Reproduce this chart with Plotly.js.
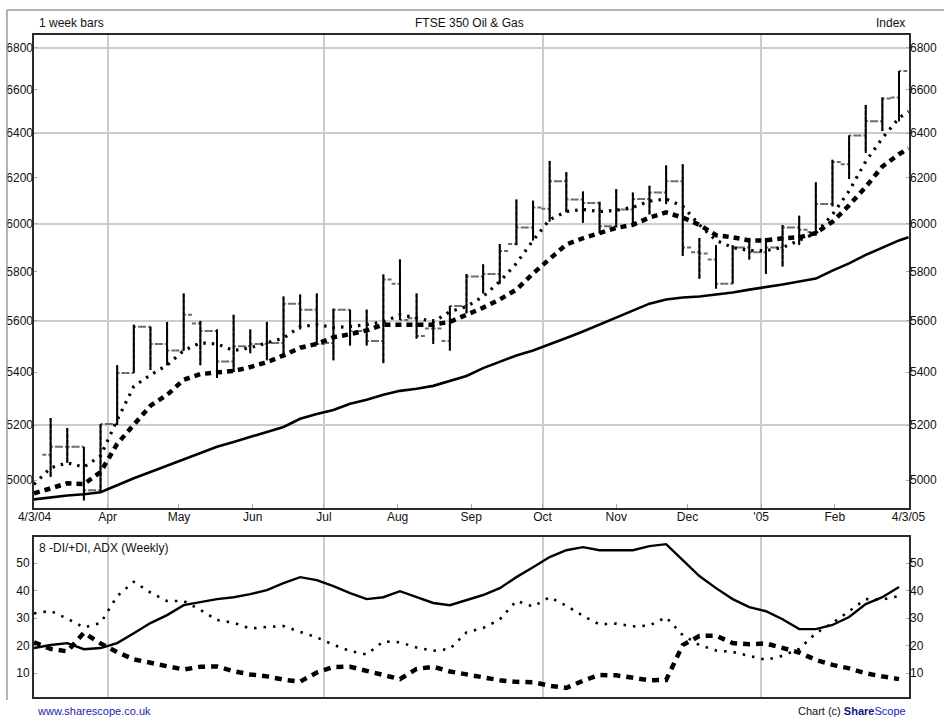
<!DOCTYPE html>
<html>
<head>
<meta charset="utf-8">
<script src="https://cdn.plot.ly/plotly-3.0.1.min.js"></script>
<style>
html,body{margin:0;padding:0;background:#fff;}
#chart{width:944px;height:728px;}
</style>
</head>
<body>
<div id="chart"></div>
<script>
// ---- data ----
const weeks = ['2004-03-01','2004-03-08','2004-03-15','2004-03-22','2004-03-29','2004-04-05','2004-04-12','2004-04-19','2004-04-26',
  '2004-05-03','2004-05-10','2004-05-17','2004-05-24','2004-05-31','2004-06-07','2004-06-14','2004-06-21','2004-06-28',
  '2004-07-05','2004-07-12','2004-07-19','2004-07-26','2004-08-02','2004-08-09','2004-08-16','2004-08-23','2004-08-30',
  '2004-09-06','2004-09-13','2004-09-20','2004-09-27','2004-10-04','2004-10-11','2004-10-18','2004-10-25','2004-11-01',
  '2004-11-08','2004-11-15','2004-11-22','2004-11-29','2004-12-06','2004-12-13','2004-12-20','2004-12-27','2005-01-03',
  '2005-01-10','2005-01-17','2005-01-24','2005-01-31','2005-02-07','2005-02-14','2005-02-21','2005-02-28'];
// the moving averages run on to the chart's end date
const maDates = weeks.concat(['2005-03-04']);

// weekly bars (the first week in the list has no bar drawn)
const opens  = [5091,5120,5120,4964,5204,5396,5577,5509,5483,5590,5560,5440,5500,5509,5513,5669,5645,5513,5645,5560,5520,5750,5610,5570,5520,5660,5780,5790,5915,5985,6065,6185,6105,6090,5990,6062,6107,6135,6185,5880,5850,5750,5900,5880,5900,5985,5965,6085,6260,6390,6455,6565];
const highs  = [5226,5189,5120,5204,5426,5585,5577,5596,5710,5600,5566,5624,5566,5596,5698,5706,5710,5649,5645,5645,5788,5850,5710,5607,5660,5790,5830,5915,6105,6100,6275,6225,6140,6095,6150,6135,6165,6255,6260,5940,5910,5910,5940,5940,5995,6035,6180,6280,6390,6530,6565,6690];
const lows   = [5011,5062,4928,4957,5200,5396,5408,5426,5483,5426,5377,5400,5472,5445,5457,5566,5505,5445,5502,5502,5434,5603,5530,5509,5483,5630,5710,5750,5910,5930,6010,6050,6005,5960,5985,5995,6040,6085,5865,5770,5730,5750,5850,5790,5820,5910,5950,6075,6195,6310,6410,6455];
const closes = [5120,5120,4964,5204,5396,5577,5509,5483,5624,5560,5440,5500,5509,5513,5669,5645,5509,5645,5560,5520,5767,5603,5540,5570,5660,5780,5790,5885,5985,6070,6185,6105,6090,5990,6062,6107,6135,6185,5900,5875,5750,5900,5880,5900,5985,5975,6085,6270,6390,6455,6560,6690];

// moving averages (one value per entry of maDates)
const maShort = [4985,5044,5062,5047,5087,5219,5345,5389,5426,5483,5513,5509,5483,5494,5513,5532,5577,5585,5574,5577,5585,5596,5624,5612,5596,5637,5657,5698,5759,5834,5930,6018,6053,6062,6053,6058,6071,6098,6107,6076,5996,5930,5900,5887,5887,5900,5930,5961,6040,6142,6273,6377,6470,6500];
const maMid   = [4953,4971,4989,4986,5029,5131,5204,5272,5313,5370,5392,5400,5404,5419,5438,5464,5494,5509,5535,5547,5562,5585,5585,5585,5585,5596,5624,5653,5686,5726,5792,5852,5913,5939,5961,5983,5996,6027,6049,6027,5996,5952,5943,5930,5930,5939,5943,5961,6009,6080,6160,6250,6305,6330];
const maLong  = [4932,4939,4946,4950,4957,4982,5007,5029,5051,5073,5098,5120,5138,5156,5174,5193,5223,5241,5256,5279,5294,5313,5328,5336,5347,5366,5385,5415,5441,5464,5483,5506,5532,5558,5585,5612,5641,5669,5686,5694,5698,5706,5714,5726,5735,5747,5759,5771,5804,5834,5869,5900,5930,5943];

// 8 -DI/+DI, ADX (weekly)
const adx     = [19.1,20.2,20.9,18.7,19.1,20.9,24.5,28.2,31.1,34.7,35.8,36.9,37.6,38.7,40.2,42.7,44.9,43.8,41.6,39.1,36.9,37.6,39.8,37.6,35.5,34.7,36.5,38.4,40.9,44.9,48.5,52.2,54.7,55.8,54.7,54.7,54.7,56.2,56.9,51.1,45.3,40.9,36.9,34.0,32.5,29.6,26.0,26.0,27.5,30.4,35.1,37.6,41.3];
const plusDI  = [31.7,32.6,29.8,26.6,28.2,38,43.2,39.3,36.2,36.2,33,29.3,28.3,26.2,26.8,27.1,25,23,20.3,18,16.8,21.5,21.2,19.3,18.1,18.8,24.8,26.4,29.5,36.3,34.2,37.6,34.5,30.8,27.7,28,27,27.3,30.3,23.8,20.2,18.2,17.7,16.2,14.8,16.3,18.8,24.5,28.2,32.5,36.9,36.8,38];
const minusDI = [21.2,18.8,17.9,24.7,20.8,17.6,15,13.6,12.5,11.3,12.3,12.4,10.7,9.5,8.8,7.6,6.9,10.2,12.2,12.3,10.8,9,7.8,11.5,12.3,10.6,9.5,8.7,7.4,6.8,6.7,5.4,4.6,7.2,9.3,9.2,8.5,7.4,7.5,20.2,23.5,23.6,20.9,20.5,20.8,19,17.5,14.8,13,11.7,9.9,8.8,7.8];

// tick labels
const monthTickDates = ['2004-03-01 06:00','2004-04-01','2004-05-01','2004-06-01','2004-07-01','2004-08-01','2004-09-01','2004-10-01','2004-11-01','2004-12-01','2005-01-01','2005-02-01','2005-03-04'];
const monthTickText  = ['4/3/04','Apr','May','Jun','Jul','Aug','Sep','Oct','Nov','Dec',"'05",'Feb','4/3/05'];
const quarterDates   = ['2004-04-01','2004-07-01','2004-10-01','2005-01-01'];
const priceTicks = [5000,5200,5400,5600,5800,6000,6200,6400,6600,6800];
const priceGrid  = [5200,5600,6000,6400,6800];
const indTicks   = [10,20,30,40,50];

// ---- chart ----
const barDates = weeks.slice(1);
const fam = "'Liberation Sans Narrow','Arial Narrow','Liberation Sans',Arial,sans-serif";
const tf = {family: fam, size: 12, color: '#111'};
const xRange = ['2004-03-01', '2005-03-04 05:00'];
const yLog = [Math.log10(4902), Math.log10(6863)];
const yInd = [1.3, 59.5];
const topDom = [0.2855, 1], botDom = [0, 0.2417];

const greyTick = {line: {color: '#6a6a6a', width: 2, dash: '4px,2px'}};
const blackBar = {line: {color: '#000', width: 2}};
const noHover = {hoverinfo: 'skip', showlegend: false};

const traces = [
  Object.assign({type: 'ohlc', x: barDates, open: opens, high: highs, low: lows, close: closes,
   xaxis: 'x', yaxis: 'y', tickwidth: 0.5, increasing: greyTick, decreasing: greyTick}, noHover),
  Object.assign({type: 'ohlc', x: barDates, open: opens, high: highs, low: lows, close: closes,
   xaxis: 'x', yaxis: 'y', tickwidth: 0, increasing: blackBar, decreasing: blackBar}, noHover),
  Object.assign({type: 'scatter', mode: 'lines', x: maDates, y: maShort, xaxis: 'x', yaxis: 'y',
   line: {color: '#000', width: 3.2, dash: '2.5px,6px'}}, noHover),
  // long MA on the label axes (same ranges) so the month and left price labels are drawn
  Object.assign({type: 'scatter', mode: 'lines', x: maDates, y: maLong, xaxis: 'x3', yaxis: 'y3',
   line: {color: '#000', width: 2.6}}, noHover),
  // mid MA on the right-hand label axis
  Object.assign({type: 'scatter', mode: 'lines', x: maDates, y: maMid, xaxis: 'x3', yaxis: 'y5',
   line: {color: '#000', width: 4.5, dash: '6px,5px'}}, noHover),
  Object.assign({type: 'scatter', mode: 'lines', x: weeks, y: plusDI, xaxis: 'x2', yaxis: 'y2',
   line: {color: '#000', width: 2.6, dash: '2.5px,7px'}}, noHover),
  Object.assign({type: 'scatter', mode: 'lines', x: weeks, y: minusDI, xaxis: 'x2', yaxis: 'y2',
   line: {color: '#000', width: 4.5, dash: '7px,6px'}}, noHover),
  Object.assign({type: 'scatter', mode: 'lines', x: weeks, y: adx, xaxis: 'x2', yaxis: 'y4',
   line: {color: '#000', width: 2.4}}, noHover)
];

const boxLine = {showline: true, linecolor: '#2a2a2a', linewidth: 2, mirror: true};
const gridStyle = {showgrid: true, gridcolor: '#cdcdcd', gridwidth: 2};

const layout = {
  width: 944, height: 728,
  margin: {l: 34, r: 35, t: 35, b: 31},
  paper_bgcolor: '#fff', plot_bgcolor: '#fff',
  showlegend: false,
  font: tf,
  xaxis: Object.assign({domain: [0, 1], anchor: 'y', type: 'date', range: xRange,
    tickmode: 'array', tickvals: quarterDates, showticklabels: false, ticks: '',
    zeroline: false, rangeslider: {visible: false}, fixedrange: true}, gridStyle, boxLine),
  xaxis3: {overlaying: 'x', anchor: 'y', type: 'date', range: xRange, side: 'bottom',
    tickmode: 'array', tickvals: monthTickDates, ticktext: monthTickText,
    showgrid: false, zeroline: false, showline: false, ticks: 'inside', ticklen: 4,
    tickcolor: '#aaa', tickfont: tf, tickangle: 0, fixedrange: true},
  yaxis: Object.assign({domain: topDom, anchor: 'x', type: 'log', range: yLog,
    tickmode: 'array', tickvals: priceGrid, showticklabels: false, ticks: '',
    zeroline: false, fixedrange: true}, gridStyle, boxLine),
  yaxis3: {overlaying: 'y', anchor: 'x', side: 'left', type: 'log', range: yLog,
    tickmode: 'array', tickvals: priceTicks, ticktext: priceTicks.map(String),
    showgrid: false, zeroline: false, showline: false, ticks: 'inside', ticklen: 3,
    tickcolor: '#aaa', tickfont: tf, fixedrange: true},
  yaxis5: {overlaying: 'y', anchor: 'x', side: 'right', type: 'log', range: yLog,
    tickmode: 'array', tickvals: priceTicks, ticktext: priceTicks.map(String),
    showgrid: false, zeroline: false, showline: false, ticks: 'inside', ticklen: 3,
    tickcolor: '#aaa', tickfont: tf, fixedrange: true},
  xaxis2: Object.assign({domain: [0, 1], anchor: 'y2', type: 'date', range: xRange,
    tickmode: 'array', tickvals: quarterDates, showticklabels: false, ticks: '',
    zeroline: false, fixedrange: true}, gridStyle, boxLine),
  yaxis2: Object.assign({domain: botDom, anchor: 'x2', range: yInd,
    tickmode: 'array', tickvals: indTicks, showgrid: false, zeroline: false,
    ticks: 'inside', ticklen: 3, tickcolor: '#aaa', tickfont: tf, side: 'left',
    fixedrange: true}, boxLine),
  yaxis4: {overlaying: 'y2', anchor: 'x2', side: 'right', range: yInd,
    tickmode: 'array', tickvals: indTicks, showgrid: false, zeroline: false,
    showline: false, ticks: 'inside', ticklen: 3, tickcolor: '#aaa', tickfont: tf,
    fixedrange: true},
  annotations: [
    {xref: 'paper', yref: 'paper', x: 0.0034, y: 1.0181, xanchor: 'left', yanchor: 'middle',
     text: '1 week bars', showarrow: false, font: tf},
    {xref: 'paper', yref: 'paper', x: 0.498, y: 1.0181, xanchor: 'center', yanchor: 'middle',
     text: 'FTSE 350 Oil &amp; Gas', showarrow: false, font: tf},
    {xref: 'paper', yref: 'paper', x: 0.9977, y: 1.0181, xanchor: 'right', yanchor: 'middle',
     text: 'Index', showarrow: false, font: tf},
    {xref: 'paper', yref: 'paper', x: 0.0034, y: 0.2251, xanchor: 'left', yanchor: 'middle',
     text: '8 -DI/+DI, ADX (Weekly)', showarrow: false, font: tf},
    {xref: 'paper', yref: 'paper', x: 0.001, y: -0.0211, xanchor: 'left', yanchor: 'middle',
     text: 'www.sharescope.co.uk', showarrow: false,
     font: {family: fam, size: 11, color: '#1c1ca8'}},
    {xref: 'paper', yref: 'paper', x: 0.9989, y: -0.0211, xanchor: 'right', yanchor: 'middle',
     text: 'Chart (c) <b><span style="color:#141480">Share</span></b><span style="color:#2020c0">Scope</span>',
     showarrow: false, font: {family: fam, size: 11, color: '#111'}}
  ],
  shapes: [
    {type: 'line', xref: 'paper', yref: 'paper', x0: -0.0309, x1: 1.04, y0: 1.0378, y1: 1.0378,
     line: {color: '#9a9a9a', width: 1.5}},
    {type: 'line', xref: 'paper', yref: 'paper', x0: -0.0309, x1: -0.0309, y0: 1.0378, y1: -0.0045,
     line: {color: '#9a9a9a', width: 1.5}}
  ]
};

Plotly.newPlot('chart', traces, layout, {displayModeBar: false, staticPlot: true});
</script>
</body>
</html>
